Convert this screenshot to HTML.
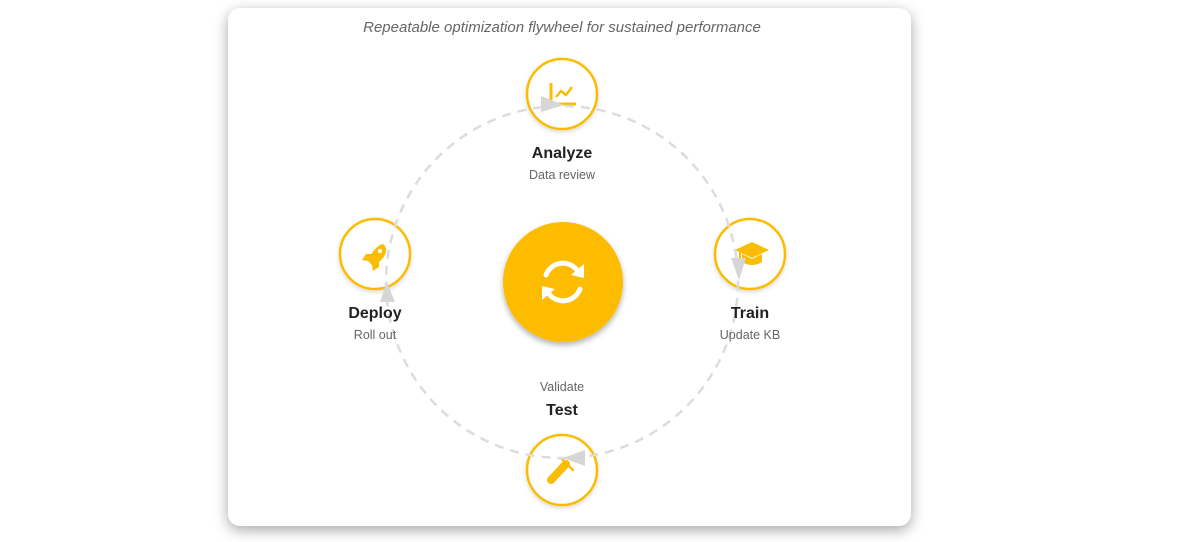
<!DOCTYPE html>
<html><head><meta charset="utf-8"><style>
html,body{margin:0;padding:0;background:#fff;width:1204px;height:542px;overflow:hidden}
.card{position:absolute;left:228px;top:8px;width:683px;height:518px;background:#fff;border-radius:12px;box-shadow:0 4px 14px rgba(0,0,0,0.35)}
svg{position:absolute;left:0;top:0}
text{font-family:"Liberation Sans",sans-serif}
</style></head><body>
<div class="card"></div>
<svg width="1204" height="542" viewBox="0 0 1204 542">
<defs>
<filter id="sh" x="-30%" y="-30%" width="160%" height="170%"><feDropShadow dx="0" dy="3" stdDeviation="3" flood-color="#000" flood-opacity="0.3"/></filter>
<filter id="sh2" x="-30%" y="-30%" width="160%" height="170%"><feDropShadow dx="0" dy="2" stdDeviation="2" flood-color="#000" flood-opacity="0.15"/></filter>
</defs>
<text x="562" y="32" text-anchor="middle" font-size="15" font-style="italic" fill="#666">Repeatable optimization flywheel for sustained performance</text>
<!-- nodes -->
<g fill="#fff" stroke="#FBBC05" stroke-width="2.5" filter="url(#sh2)">
<circle cx="562" cy="94" r="35"/>
<circle cx="750" cy="254" r="35"/>
<circle cx="375" cy="254" r="35"/>
<circle cx="562" cy="470" r="35"/>
</g>
<!-- icons -->
<g fill="#FBBC05" stroke="#FBBC05">
<path d="M551 83 V104 H576" fill="none" stroke-width="3"/>
<path d="M556 97 L561 91 L566 95 L572 87" fill="none" stroke-width="2.5" stroke-linejoin="round"/>
<polygon points="735,250 752,242 769,250 752,258" stroke="none"/>
<path d="M742 254 V262 Q752 268 762 262 V254 L752 259 Z" stroke="none"/>
<path d="M740 251 V266" fill="none" stroke-width="2"/>
<path d="M382 244 Q377 246 371 254 L366 254 L362 260 L368 261 L372 265 L373 271 L379 267 L379 262 Q387 255 386 249 Q385 244 382 244Z" stroke="none"/>
<path d="M551 480 L566 464" fill="none" stroke-width="8" stroke-linecap="round"/>
<path d="M562 459 L573 470" fill="none" stroke-width="2.5" stroke-linecap="round"/>
</g>
<circle cx="380" cy="251" r="2" fill="#fff"/>
<circle cx="562" cy="282" r="176" fill="none" stroke="#dcdcdc" stroke-width="2.5" stroke-dasharray="9 7"/>
<!-- arrowheads -->
<g fill="#d6d6d6">
<polygon points="541,96 541,112 564,105"/>
<polygon points="731,258 746,258 739,280"/>
<polygon points="585,450 585,466 563,458"/>
<polygon points="380,302 395,302 387,282"/>
</g>
<!-- center -->
<circle cx="563" cy="282" r="60" fill="#FDBC00" filter="url(#sh)"/>
<g fill="none" stroke="#fff" stroke-width="5" stroke-linecap="round">
<path d="M546 275 A18 18 0 0 1 577 270"/>
<path d="M580 289 A18 18 0 0 1 549 294"/>
</g>
<polygon points="584,264 584,278 571,275" fill="#fff"/>
<polygon points="542,300 542,286 555,289" fill="#fff"/>
<!-- labels -->
<g text-anchor="middle">
<text x="562" y="158" font-size="16" font-weight="bold" fill="#222">Analyze</text>
<text x="562" y="179" font-size="12.5" fill="#666">Data review</text>
<text x="750" y="318" font-size="16" font-weight="bold" fill="#222">Train</text>
<text x="750" y="339" font-size="12.5" fill="#666">Update KB</text>
<text x="375" y="318" font-size="16" font-weight="bold" fill="#222">Deploy</text>
<text x="375" y="339" font-size="12.5" fill="#666">Roll out</text>
<text x="562" y="391" font-size="12.5" fill="#666">Validate</text>
<text x="562" y="415" font-size="16" font-weight="bold" fill="#222">Test</text>
</g>
</svg>
</body></html>
